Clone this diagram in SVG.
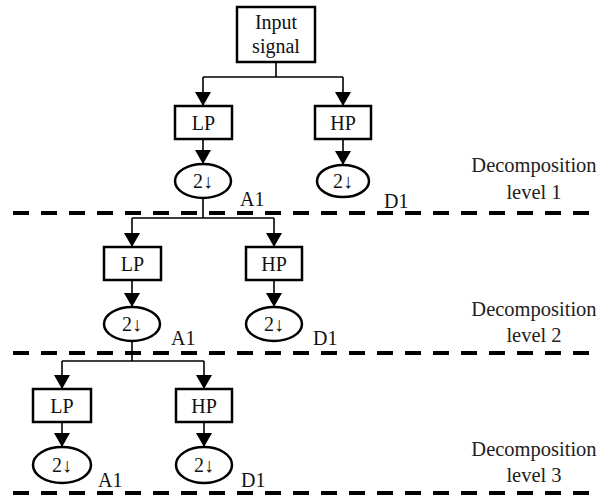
<svg xmlns="http://www.w3.org/2000/svg" width="600" height="498" viewBox="0 0 600 498">
<style>
.box{fill:#fff;stroke:#000;stroke-width:2.5}
.ell{fill:#fff;stroke:#000;stroke-width:2.5}
text{font-family:"Liberation Serif","Times New Roman","DejaVu Serif",serif}
.t{font-size:20px;fill:#111;text-anchor:middle}
.lbl{font-size:20px;fill:#111}
.side{font-size:20.5px;fill:#222;text-anchor:middle}
.c{fill:none;stroke:#000;stroke-width:1.6}
.a{fill:none;stroke:#000;stroke-width:1.6;marker-end:url(#ah)}
.dash{stroke:#000;stroke-width:4;stroke-dasharray:16 12}
</style>
<defs>
<marker id="ah" markerUnits="userSpaceOnUse" markerWidth="14" markerHeight="16" refX="14" refY="8" orient="auto" viewBox="0 0 14 16">
<path d="M0,0 L14,8 L0,16 Z" fill="#000"/>
</marker>
</defs>
<g id="separators">
<line class="dash" x1="13" y1="213" x2="600" y2="213"/>
<line class="dash" x1="13" y1="353" x2="600" y2="353"/>
<line class="dash" x1="13" y1="493" x2="600" y2="493"/>
</g>
<g id="connectors">
<path class="c" d="M276,62 V77 M203,77 H343"/>
<path class="a" d="M203,77 V106"/>
<path class="a" d="M343,77 V106"/>
<path class="a" d="M203,139 V164"/>
<path class="a" d="M343,139 V165"/>
<path class="c" d="M203,198 V218 M132,218 H274"/>
<path class="a" d="M132,218 V247"/>
<path class="a" d="M274,218 V247"/>
<path class="a" d="M132,280 V307"/>
<path class="a" d="M274,280 V307"/>
<path class="c" d="M132,341 V361 M62,361 H204"/>
<path class="a" d="M62,361 V389"/>
<path class="a" d="M204,361 V389"/>
<path class="a" d="M62,422 V447"/>
<path class="a" d="M204,422 V447"/>
</g>
<g id="input">
<rect class="box" x="237" y="7" width="78" height="55"/>
<text class="t" x="276" y="29">Input</text>
<text class="t" x="276" y="53">signal</text>
</g>
<g id="lp1"><rect class="box" x="175" y="106" width="57" height="33"/><text class="t" x="203.5" y="130">LP</text></g>
<g id="hp1"><rect class="box" x="315" y="106" width="56" height="33"/><text class="t" x="343" y="130">HP</text></g>
<g id="ds_a1"><ellipse class="ell" cx="203" cy="181" rx="28" ry="17"/><text class="t" x="203" y="188">2↓</text></g>
<g id="ds_d1"><ellipse class="ell" cx="343" cy="181" rx="26" ry="16"/><text class="t" x="343" y="188">2↓</text></g>
<g id="lp2"><rect class="box" x="104" y="247" width="57" height="33"/><text class="t" x="132.5" y="271">LP</text></g>
<g id="hp2"><rect class="box" x="246" y="247" width="56" height="33"/><text class="t" x="274" y="271">HP</text></g>
<g id="ds_a2"><ellipse class="ell" cx="132" cy="324" rx="28" ry="17"/><text class="t" x="132" y="331">2↓</text></g>
<g id="ds_d2"><ellipse class="ell" cx="274" cy="324" rx="28" ry="17"/><text class="t" x="274" y="331">2↓</text></g>
<g id="lp3"><rect class="box" x="33" y="389" width="58" height="33"/><text class="t" x="62" y="413">LP</text></g>
<g id="hp3"><rect class="box" x="176" y="389" width="56" height="33"/><text class="t" x="204" y="413">HP</text></g>
<g id="ds_a3"><ellipse class="ell" cx="62" cy="465" rx="29" ry="18"/><text class="t" x="62" y="472">2↓</text></g>
<g id="ds_d3"><ellipse class="ell" cx="204" cy="465" rx="28" ry="18"/><text class="t" x="204" y="472">2↓</text></g>
<g id="labels">
<text class="lbl" x="240" y="206">A1</text>
<text class="lbl" x="384" y="208">D1</text>
<text class="lbl" x="171" y="345">A1</text>
<text class="lbl" x="313" y="345">D1</text>
<text class="lbl" x="98" y="487">A1</text>
<text class="lbl" x="241" y="487">D1</text>
</g>
<g id="level1"><text class="side" x="534" y="172">Decomposition</text><text class="side" x="534" y="199">level 1</text></g>
<g id="level2"><text class="side" x="534" y="316">Decomposition</text><text class="side" x="534" y="342">level 2</text></g>
<g id="level3"><text class="side" x="534" y="456">Decomposition</text><text class="side" x="534" y="482">level 3</text></g>
</svg>
